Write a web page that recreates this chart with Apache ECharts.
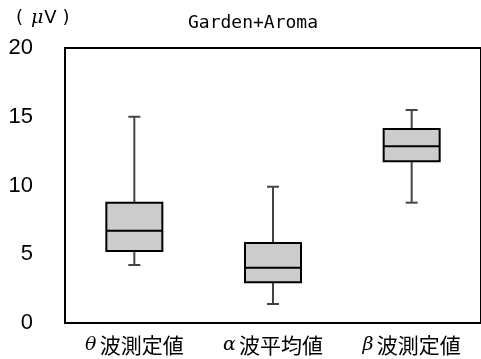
<!DOCTYPE html>
<html><head><meta charset="utf-8">
<script src="https://cdn.jsdelivr.net/npm/echarts@6/dist/echarts.min.js"></script>
<style>html,body{margin:0;padding:0;background:#fff}#c{width:481px;height:359px}</style>
</head><body><div id="c"></div>
<script>
var categories = ['θ波測定値', 'α波平均値', 'β波測定値'];
var minVals = [4.22, 1.38, 8.75];
var q1Vals = [5.24, 2.96, 11.76];
var medianVals = [6.71, 4.02, 12.85];
var q3Vals = [8.75, 5.82, 14.11];
var maxVals = [15.0, 9.91, 15.49];
var yTicks = [0, 5, 10, 15, 20];

var data = categories.map(function (c, i) {
  return [i, minVals[i], q1Vals[i], medianVals[i], q3Vals[i], maxVals[i]];
});

var chart = echarts.init(document.getElementById('c'));
chart.setOption({
  animation: false,
  title: {
    text: 'Garden+Aroma', left: 248, textAlign: 'center', top: 9,
    textStyle: { fontFamily: 'DejaVu Sans Mono', fontSize: 18, fontWeight: 'normal', color: '#000' }
  },
  graphic: [{
    type: 'text', left: 16, top: 9,
    style: {
      text: '{p|(}{m|μ}{v|V )}',
      rich: {
        p: { fontFamily: 'DejaVu Sans', fontSize: 18, fill: '#000' },
        m: { fontFamily: 'DejaVu Serif', fontStyle: 'italic', fontSize: 19, fill: '#000', padding: [0, 1, 0, 8] },
        v: { fontFamily: 'DejaVu Sans', fontSize: 18, fill: '#000' }
      }
    }
  }],
  grid: { left: 65, top: 48, width: 425, bottom: 36, show: true, borderColor: '#000', borderWidth: 2 },
  xAxis: {
    type: 'category', data: categories,
    axisLine: { show: true, lineStyle: { color: '#000', width: 2 } },
    axisTick: { show: false },
    axisLabel: {
      color: '#000', margin: 12,
      formatter: function (v) { return '{g|' + v.charAt(0) + '} {t|' + v.slice(1) + '}'; },
      rich: {
        g: { fontFamily: 'DejaVu Serif', fontStyle: 'italic', fontSize: 19, color: '#000' },
        t: { fontFamily: 'Noto Sans CJK JP', fontSize: 21, color: '#000' }
      }
    }
  },
  yAxis: {
    type: 'value', min: yTicks[0], max: yTicks[yTicks.length - 1], interval: 5,
    axisLine: { show: true, lineStyle: { color: '#000', width: 2 } },
    axisTick: { show: false },
    splitLine: { show: false },
    axisLabel: { color: '#000', fontFamily: 'Liberation Sans', fontSize: 22, margin: 32 }
  },
  series: [{
    type: 'custom',
    data: data,
    encode: { x: 0, y: [1, 2, 3, 4, 5] },
    renderItem: function (params, api) {
      var i = api.value(0);
      var pMin = api.coord([i, api.value(1)]);
      var pQ1 = api.coord([i, api.value(2)]);
      var pMed = api.coord([i, api.value(3)]);
      var pQ3 = api.coord([i, api.value(4)]);
      var pMax = api.coord([i, api.value(5)]);
      var x = pMin[0];
      var bw = 56, cw = 12;
      var wStyle = { stroke: '#444', lineWidth: 2 };
      return {
        type: 'group',
        children: [
          { type: 'line', shape: { x1: x, y1: pMax[1], x2: x, y2: pQ3[1] }, style: wStyle },
          { type: 'line', shape: { x1: x, y1: pQ1[1], x2: x, y2: pMin[1] }, style: wStyle },
          { type: 'line', shape: { x1: x - cw / 2, y1: pMax[1], x2: x + cw / 2, y2: pMax[1] }, style: wStyle },
          { type: 'line', shape: { x1: x - cw / 2, y1: pMin[1], x2: x + cw / 2, y2: pMin[1] }, style: wStyle },
          { type: 'rect', shape: { x: x - bw / 2, y: pQ3[1], width: bw, height: pQ1[1] - pQ3[1] },
            style: { fill: '#cccccc', stroke: '#000', lineWidth: 2 } },
          { type: 'line', shape: { x1: x - bw / 2, y1: pMed[1], x2: x + bw / 2, y2: pMed[1] },
            style: { stroke: '#000', lineWidth: 2 } }
        ]
      };
    }
  }]
});
</script></body></html>
